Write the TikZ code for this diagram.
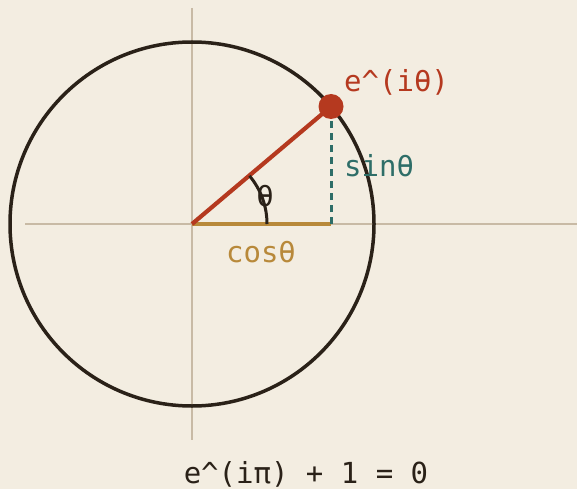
\documentclass[tikz,border=0pt]{standalone}
\usepackage{fontspec}
\setmonofont{DejaVu Sans Mono}
\definecolor{bg}{HTML}{F3EDE1}
\definecolor{ink}{HTML}{2A2118}
\definecolor{axisc}{HTML}{C8BAA5}
\definecolor{redc}{HTML}{B5391F}
\definecolor{goldc}{HTML}{B8893A}
\definecolor{tealc}{HTML}{2E6E68}
\tikzset{
  lbl/.style={font=\fontsize{29}{33}\selectfont\ttfamily, inner sep=0pt},
  axisline/.style={draw=axisc, line width=2pt},
}
\begin{document}
\begin{tikzpicture}[x=1pt,y=-1pt]
\fill[bg] (0,0) rectangle (577,489);
\useasboundingbox (0,0) rectangle (577,489);
\coordinate (O) at (192,224);
\coordinate (xl) at (25,224);
\coordinate (xr) at (577,224);
\coordinate (yt) at (192,8);
\coordinate (yb) at (192,440);
\draw[axisline] (xl) -- (xr);
\draw[axisline] (yt) -- (yb);
\draw[ink, line width=3.5pt] (O) circle[radius=182];
\coordinate (P) at (331,106.5);
\coordinate (F) at (331,224);
\draw[goldc, line width=3.5pt] (O) -- (F);
\draw[tealc, line width=3pt, dash pattern=on 7pt off 5pt] (F) -- (P);
\draw[redc, line width=4.2pt] (O) -- (P);
\draw[ink, line width=3pt] (267,224) arc[start angle=0, end angle=-40, radius=75];
\fill[redc] (P) circle[radius=12.5];
\node[lbl, text=redc, anchor=west] (le) at (344,82) {e\^{}(iθ)};
\node[lbl, text=tealc, anchor=west] (ls) at (344,166) {sinθ};
\node[lbl, text=goldc] (lc) at (261,252) {cosθ};
\node[lbl, text=ink] (lt) at (265,196) {θ};
\node[lbl, text=ink] (leq) at (306,474) {e\^{}(iπ) + 1 = 0};
\end{tikzpicture}
\end{document}
